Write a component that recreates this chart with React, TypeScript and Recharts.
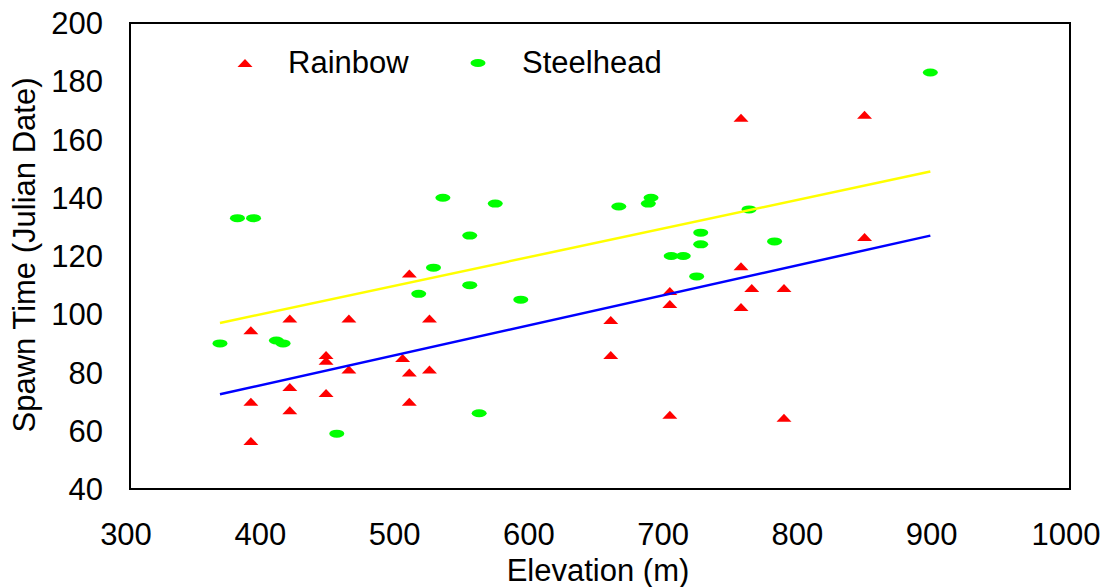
import React from 'react';
import { ScatterChart, Scatter, XAxis, YAxis, ReferenceArea } from 'recharts';

// elevation (m) / spawn time (julian date)
const rainbowElevation = [390, 390, 390, 419, 419, 419, 446, 446, 446, 463, 463, 503, 508, 508, 508, 523, 523, 658, 658, 702, 702, 702, 755, 755, 755, 763, 787, 787, 847, 847];
const rainbowSpawn = [94.5, 70, 56.5, 98.5, 75, 67, 86, 84, 73, 98.5, 81, 85, 114, 80, 70, 98.5, 81, 98, 86, 108, 103.5, 65.5, 167.5, 116.5, 102.5, 109, 109, 64.5, 168.5, 126.5];

const steelheadElevation = [367, 380, 392, 409, 414, 454, 515, 526, 533, 553, 553, 560, 572, 591, 664, 686, 688, 703, 712, 722, 725, 725, 761, 780, 896];
const steelheadSpawn = [90, 133, 133, 91, 90, 59, 107, 116, 140, 127, 110, 66, 138, 105, 137, 138, 140, 120, 120, 113, 128, 124, 136, 125, 183];

// trend line end points
const steelheadTrendX = [367, 896];
const steelheadTrendY = [97, 149];
const rainbowTrendX = [367, 896];
const rainbowTrendY = [72.5, 127];

const xTicks = [300, 400, 500, 600, 700, 800, 900, 1000];
const yTicks = [40, 60, 80, 100, 120, 140, 160, 180, 200];

const zip = (xs: number[], ys: number[]) => xs.map((x, i) => ({ x, y: ys[i] }));

const rainbow = zip(rainbowElevation, rainbowSpawn);
const steelhead = zip(steelheadElevation, steelheadSpawn);
const steelheadTrend = zip(steelheadTrendX, steelheadTrendY);
const rainbowTrend = zip(rainbowTrendX, rainbowTrendY);

const FONT = '"Liberation Sans", Arial, sans-serif';

const Triangle = (p: any) => (
    <polygon points={`${p.cx - 7.5},${p.cy + 4} ${p.cx + 7.5},${p.cy + 4} ${p.cx},${p.cy - 4}`} fill="#ff0000" />
);

const Oval = (p: any) => <ellipse cx={p.cx} cy={p.cy} rx={7.5} ry={4} fill="#00ff00" />;

const XTick = (p: any) => (
    <text x={p.x - 4} y={545} textAnchor="middle" fontSize={31} fontFamily={FONT} fill="#000">
        {p.payload.value}
    </text>
);

const YTick = (p: any) => (
    <text x={103} y={p.y} dy={11} textAnchor="end" fontSize={31} fontFamily={FONT} fill="#000">
        {p.payload.value}
    </text>
);

function LegendBox() {
    const item = { display: 'flex', alignItems: 'center', position: 'absolute' as const, top: 0, height: 40 };
    return (
        <div style={{ position: 'absolute', left: 237, top: 43, width: 500, height: 40, fontFamily: FONT, fontSize: 31, color: '#000' }}>
            <div style={{ ...item, left: 0 }}>
                <svg width={16} height={10}>
                    <polygon points="0.5,9 15.5,9 8,1" fill="#ff0000" />
                </svg>
                <span style={{ marginLeft: 35 }}>Rainbow</span>
            </div>
            <div style={{ ...item, left: 233 }}>
                <svg width={16} height={10}>
                    <ellipse cx={8} cy={5} rx={7.5} ry={4} fill="#00ff00" />
                </svg>
                <span style={{ marginLeft: 36 }}>Steelhead</span>
            </div>
        </div>
    );
}

export default function App() {
    return (
        <div style={{ position: 'absolute', left: 0, top: 0, width: 1107, height: 587, background: '#fff' }}>
            <ScatterChart width={1107} height={587} margin={{ top: 23, right: 37, bottom: 0, left: 0 }}>
                <XAxis
                    type="number"
                    dataKey="x"
                    domain={[300, 1000]}
                    ticks={xTicks}
                    height={98}
                    tickLine={false}
                    axisLine={false}
                    tick={<XTick />}
                    label={{
                        content: () => (
                            <text x={598} y={581} textAnchor="middle" fontSize={31} fontFamily={FONT} fill="#000">
                                Elevation (m)
                            </text>
                        ),
                    }}
                />
                <YAxis
                    type="number"
                    dataKey="y"
                    domain={[40, 200]}
                    ticks={yTicks}
                    width={130}
                    tickLine={false}
                    axisLine={false}
                    tick={<YTick />}
                    label={{
                        content: () => (
                            <text
                                x={35}
                                y={255}
                                transform="rotate(-90, 35, 255)"
                                textAnchor="middle"
                                fontSize={31}
                                fontFamily={FONT}
                                fill="#000"
                            >
                                Spawn Time (Julian Date)
                            </text>
                        ),
                    }}
                />
                <ReferenceArea x1={300} x2={1000} y1={40} y2={200} fill="none" stroke="#000" strokeWidth={2} />
                <Scatter name="Rainbow" data={rainbow} shape={<Triangle />} isAnimationActive={false} />
                <Scatter name="Steelhead" data={steelhead} shape={<Oval />} isAnimationActive={false} />
                <Scatter
                    data={steelheadTrend}
                    line={{ stroke: '#ffff00', strokeWidth: 2.5 }}
                    shape={() => <g />}
                    legendType="none"
                    isAnimationActive={false}
                />
                <Scatter
                    data={rainbowTrend}
                    line={{ stroke: '#0000ff', strokeWidth: 2.5 }}
                    shape={() => <g />}
                    legendType="none"
                    isAnimationActive={false}
                />
            </ScatterChart>
            <LegendBox />
        </div>
    );
}
